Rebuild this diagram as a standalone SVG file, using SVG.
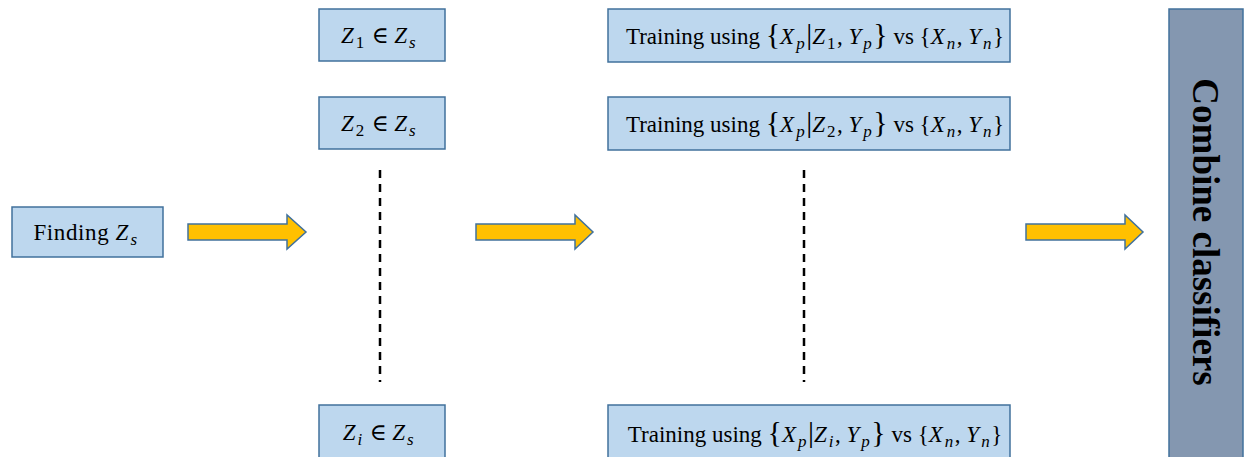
<svg xmlns="http://www.w3.org/2000/svg" width="1248" height="457" viewBox="0 0 1248 457">
<style>
.box{fill:#BDD7EE;stroke:#41719C;stroke-width:1.5}
.big{fill:#8497B0;stroke:#41719C;stroke-width:1.5}
.t{font-family:"Liberation Serif","DejaVu Serif",serif;font-size:23px;fill:#000}
.m{font-style:italic;letter-spacing:2px}
.s{font-size:17px;letter-spacing:1.5px}
.b{font-size:30px}
.arrow{fill:#FFC000;stroke:#41719C;stroke-width:1.5}
.dash{stroke:#000;stroke-width:2.5;stroke-dasharray:8,6}
.ct{font-family:"Liberation Serif","DejaVu Serif",serif;font-size:37px;font-weight:bold;fill:#000}
</style>
<rect width="1248" height="457" fill="#fff"/>
<g id="finding">
<rect class="box" x="12" y="207" width="151" height="50"/>
<text class="t" x="86" y="240" text-anchor="middle" letter-spacing="0.6">Finding <tspan class="m">Z</tspan><tspan class="m s" dy="5">s</tspan></text>
</g>
<g id="z1">
<rect class="box" x="319" y="9" width="126" height="52"/>
<text class="t" x="379" y="43" text-anchor="middle"><tspan class="m">Z</tspan><tspan class="s" dy="5">1</tspan><tspan dy="-5"> ∈   </tspan><tspan class="m">Z</tspan><tspan class="m s" dy="5">s</tspan></text>
</g>
<g id="z2">
<rect class="box" x="319" y="97" width="126" height="52"/>
<text class="t" x="379" y="131" text-anchor="middle"><tspan class="m">Z</tspan><tspan class="s" dy="5">2</tspan><tspan dy="-5"> ∈   </tspan><tspan class="m">Z</tspan><tspan class="m s" dy="5">s</tspan></text>
</g>
<g id="zi">
<rect class="box" x="319" y="405" width="126" height="56"/>
<text class="t" x="379" y="440" text-anchor="middle"><tspan class="m">Z</tspan><tspan class="m s" dy="5">i</tspan><tspan dy="-5"> ∈   </tspan><tspan class="m">Z</tspan><tspan class="m s" dy="5">s</tspan></text>
</g>
<g id="train1">
<rect class="box" x="608" y="9" width="402" height="53"/>
<text class="t" x="815" y="44" text-anchor="middle">Training using <tspan class="b">{</tspan><tspan class="m">X</tspan><tspan class="m s" dy="5">p</tspan><tspan dy="-5" class="b">|</tspan><tspan class="m">Z</tspan><tspan class="s" dy="5">1</tspan><tspan dy="-5">, </tspan><tspan class="m">Y</tspan><tspan class="m s" dy="5">p</tspan><tspan dy="-5" class="b">}</tspan>  vs {<tspan class="m">X</tspan><tspan class="m s" dy="5">n</tspan><tspan dy="-5">, </tspan><tspan class="m">Y</tspan><tspan class="m s" dy="5">n</tspan><tspan dy="-5">}</tspan></text>
</g>
<g id="train2">
<rect class="box" x="608" y="97" width="402" height="53"/>
<text class="t" x="815" y="132" text-anchor="middle">Training using <tspan class="b">{</tspan><tspan class="m">X</tspan><tspan class="m s" dy="5">p</tspan><tspan dy="-5" class="b">|</tspan><tspan class="m">Z</tspan><tspan class="s" dy="5">2</tspan><tspan dy="-5">, </tspan><tspan class="m">Y</tspan><tspan class="m s" dy="5">p</tspan><tspan dy="-5" class="b">}</tspan>  vs {<tspan class="m">X</tspan><tspan class="m s" dy="5">n</tspan><tspan dy="-5">, </tspan><tspan class="m">Y</tspan><tspan class="m s" dy="5">n</tspan><tspan dy="-5">}</tspan></text>
</g>
<g id="traini">
<rect class="box" x="608" y="405" width="402" height="56"/>
<text class="t" x="815" y="442" text-anchor="middle">Training using <tspan class="b">{</tspan><tspan class="m">X</tspan><tspan class="m s" dy="5">p</tspan><tspan dy="-5" class="b">|</tspan><tspan class="m">Z</tspan><tspan class="m s" dy="5">i</tspan><tspan dy="-5">, </tspan><tspan class="m">Y</tspan><tspan class="m s" dy="5">p</tspan><tspan dy="-5" class="b">}</tspan>  vs {<tspan class="m">X</tspan><tspan class="m s" dy="5">n</tspan><tspan dy="-5">, </tspan><tspan class="m">Y</tspan><tspan class="m s" dy="5">n</tspan><tspan dy="-5">}</tspan></text>
</g>
<g id="combine">
<rect class="big" x="1169" y="9" width="74" height="452"/>
<text class="ct" transform="translate(1193,232) rotate(90)" text-anchor="middle">Combine classifiers</text>
</g>
<g id="connectors">
<polygon class="arrow" points="188,224 287,224 287,215 306,232 287,249 287,240 188,240"/>
<polygon class="arrow" points="476,224 575,224 575,215 593,232 575,249 575,240 476,240"/>
<polygon class="arrow" points="1026,224 1125,224 1125,215 1143,232 1125,249 1125,240 1026,240"/>
<line class="dash" x1="380" y1="170" x2="380" y2="382"/>
<line class="dash" x1="804" y1="170" x2="804" y2="382"/>
</g>
</svg>
